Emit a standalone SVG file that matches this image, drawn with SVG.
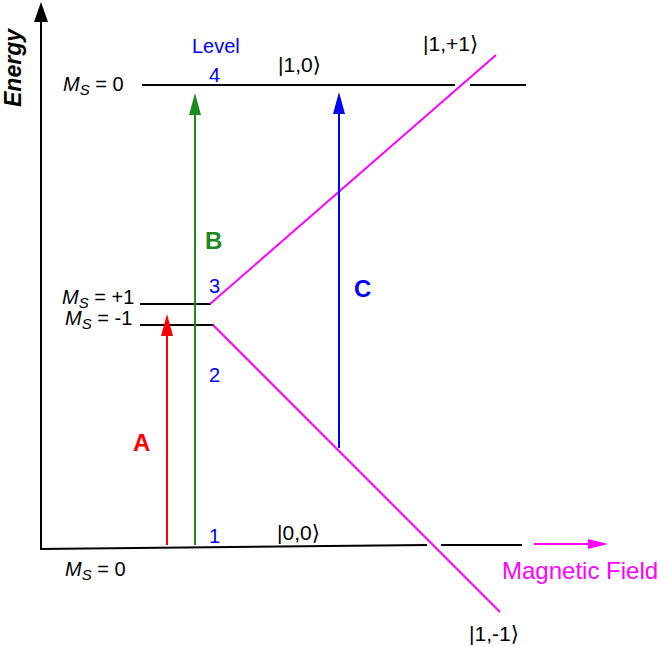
<svg xmlns="http://www.w3.org/2000/svg" width="666" height="647" viewBox="0 0 666 647">
<style>
text{font-family:"Liberation Sans",Arial,"DejaVu Sans",sans-serif;font-size:20px;fill:#000}
.lvl{stroke:#000;stroke-width:2;fill:none}
.mag{stroke:#ff00ff;stroke-width:2;fill:none}
.num{fill:#0000ff}
.ket{font-size:21px}
.big{font-size:24px;font-weight:bold}
.it{font-style:italic}
.sub{font-size:15px;font-style:italic}
</style>
<defs>
<marker id="hR" markerUnits="userSpaceOnUse" markerWidth="24" markerHeight="14" refX="0" refY="7" orient="auto" viewBox="0 0 24 14"><path d="M0,1 L22,7 L0,13 Z" fill="#ff0000"/></marker>
<marker id="hG" markerUnits="userSpaceOnUse" markerWidth="24" markerHeight="14" refX="0" refY="7" orient="auto" viewBox="0 0 24 14"><path d="M0,1 L22,7 L0,13 Z" fill="#1f8a1f"/></marker>
<marker id="hB" markerUnits="userSpaceOnUse" markerWidth="24" markerHeight="14" refX="0" refY="7" orient="auto" viewBox="0 0 24 14"><path d="M0,1 L22,7 L0,13 Z" fill="#0000ff"/></marker>
<marker id="hM" markerUnits="userSpaceOnUse" markerWidth="22" markerHeight="12" refX="0" refY="6" orient="auto" viewBox="0 0 22 12"><path d="M0,1 L20,6 L0,11 Z" fill="#ff00ff"/></marker>
<marker id="hK" markerUnits="userSpaceOnUse" markerWidth="22" markerHeight="16" refX="0" refY="8" orient="auto" viewBox="0 0 22 16"><path d="M0,1 L20,8 L0,15 Z" fill="#000"/></marker>
</defs>

<g id="axes">
<line x1="41" y1="550" x2="41" y2="22" stroke="#000" stroke-width="2" marker-end="url(#hK)"/>
<text class="big it" transform="translate(21,68) rotate(-90)" text-anchor="middle" style="font-size:23px">Energy</text>
</g>

<g id="level4">
<line class="lvl" x1="142" y1="85" x2="455" y2="85"/>
<line class="lvl" x1="470" y1="85" x2="526" y2="85"/>
<text x="63" y="91"><tspan class="it">M</tspan><tspan class="sub" dy="4">S</tspan><tspan dy="-4"> = 0</tspan></text>
<text class="num" x="192" y="53">Level</text>
<text class="num" x="209" y="82">4</text>
<text class="ket" x="278" y="72">|1,0⟩</text>
</g>

<g id="level3">
<line class="lvl" x1="140" y1="304" x2="211" y2="304"/>
<text x="62" y="304"><tspan class="it">M</tspan><tspan class="sub" dy="4">S</tspan><tspan dy="-4"> = +1</tspan></text>
<text class="num" x="209" y="293">3</text>
</g>

<g id="level2">
<line class="lvl" x1="140" y1="325" x2="214" y2="325"/>
<text x="65" y="325"><tspan class="it">M</tspan><tspan class="sub" dy="4">S</tspan><tspan dy="-4"> = -1</tspan></text>
<text class="num" x="209" y="382">2</text>
</g>

<g id="level1">
<line class="lvl" x1="40" y1="549" x2="427" y2="545"/>
<line class="lvl" x1="441" y1="545" x2="522" y2="545"/>
<text x="65" y="576"><tspan class="it">M</tspan><tspan class="sub" dy="4">S</tspan><tspan dy="-4"> = 0</tspan></text>
<text class="num" x="209" y="543">1</text>
<text class="ket" x="277" y="540">|0,0⟩</text>
</g>

<g id="zeeman">
<line class="mag" x1="210" y1="304" x2="496" y2="55"/>
<line class="mag" x1="213" y1="325" x2="500" y2="612"/>
<text class="ket" x="423" y="51">|1,+1⟩</text>
<text class="ket" x="469" y="641">|1,-1⟩</text>
</g>

<g id="field">
<line x1="534" y1="544" x2="588" y2="544" stroke="#ff00ff" stroke-width="2" marker-end="url(#hM)"/>
<text x="502" y="579" style="font-size:24px;fill:#ff00ff">Magnetic Field</text>
</g>

<g id="connectors">
<line x1="167" y1="545" x2="167" y2="336" stroke="#ff0000" stroke-width="2" marker-end="url(#hR)"/>
<line x1="195" y1="545" x2="195" y2="115" stroke="#1f8a1f" stroke-width="2" marker-end="url(#hG)"/>
<line x1="339" y1="448" x2="339" y2="114" stroke="#0000ff" stroke-width="2" marker-end="url(#hB)"/>
</g>

<g id="labels">
<text class="big" x="133" y="451" style="fill:#ff0000">A</text>
<text class="big" x="205" y="249" style="fill:#1f8a1f">B</text>
<text class="big" x="354" y="297" style="fill:#0000ff">C</text>
</g>
</svg>
